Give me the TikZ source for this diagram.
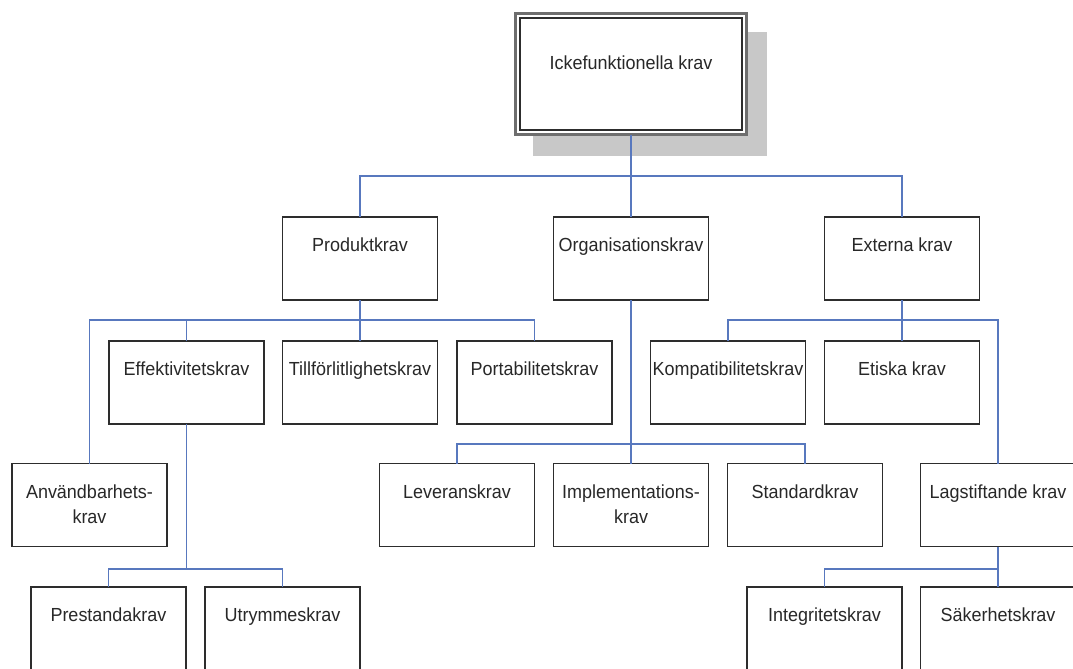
\documentclass[tikz,border=0pt]{standalone}
\usepackage{fontspec}
\setmainfont{Liberation Sans}[FakeStretch=0.95]
\definecolor{linkblue}{RGB}{88,120,190}
\definecolor{boxline}{RGB}{45,45,45}
\definecolor{shadowgray}{RGB}{200,200,200}
\definecolor{framegray}{RGB}{110,110,110}
\definecolor{txtcol}{RGB}{40,40,40}
\newcommand{\boxtext}[1]{\parbox[c][62.25pt][t]{116.25pt}{\centering\fontsize{14.2pt}{18.75pt}\selectfont\vspace*{13.1pt}\strut #1}}
\newcommand{\roottext}[1]{\parbox[c][90.75pt][t]{173.25pt}{\centering\fontsize{14.2pt}{18.75pt}\selectfont\vspace*{28.5pt}\strut #1}}
\begin{document}
\begin{tikzpicture}[x=0.75pt,y=-0.75pt,
  reqbox/.style={draw=boxline, line width=1.4pt, fill=white, inner sep=0pt, outer sep=0pt, text=txtcol},
  rootbox/.style={draw=framegray, line width=2.25pt, fill=white, inner sep=0pt, outer sep=0pt, text=txtcol},
  link/.style={draw=linkblue, line width=1.1pt}]
\fill[white] (0,0) rectangle (1073,668);
\useasboundingbox (0,0) rectangle (1073,668);

% root with shadow and double frame
\fill[shadowgray] (533,32) rectangle (767,156);
\node[rootbox] (root) at (631,74) {\roottext{Ickefunktionella krav}};
\draw[boxline, line width=1.1pt] ([shift={(4.5,4.5)}]root.north west) rectangle ([shift={(-4.5,-4.5)}]root.south east);

% level 1
\node[reqbox] (prod) at (360,258.5) {\boxtext{Produktkrav}};
\node[reqbox] (org)  at (631,258.5) {\boxtext{Organisationskrav}};
\node[reqbox] (ext)  at (902,258.5) {\boxtext{Externa krav}};

% level 2
\node[reqbox] (eff)  at (186.5,382.5) {\boxtext{Effektivitetskrav}};
\node[reqbox] (till) at (360,382.5)   {\boxtext{Tillförlitlighetskrav}};
\node[reqbox] (port) at (534.5,382.5) {\boxtext{Portabilitetskrav}};
\node[reqbox] (komp) at (728,382.5)   {\boxtext{Kompatibilitetskrav}};
\node[reqbox] (etik) at (902,382.5)   {\boxtext{Etiska krav}};

% level 3
\node[reqbox] (anv)  at (89.5,505)  {\boxtext{Användbarhets-\\krav}};
\node[reqbox] (lev)  at (457,505)   {\boxtext{Leveranskrav}};
\node[reqbox] (impl) at (631,505)   {\boxtext{Implementations-\\krav}};
\node[reqbox] (std)  at (805,505)   {\boxtext{Standardkrav}};
\node[reqbox] (lag)  at (998,505)   {\boxtext{Lagstiftande krav}};

% level 4
\node[reqbox] (prest) at (108.5,628.5) {\boxtext{Prestandakrav}};
\node[reqbox] (utr)   at (282.5,628.5) {\boxtext{Utrymmeskrav}};
\node[reqbox] (integ) at (824.5,628.5) {\boxtext{Integritetskrav}};
\node[reqbox] (saker) at (998,628.5)   {\boxtext{Säkerhetskrav}};

% junctions
\coordinate (j0) at (631,176);
\coordinate (j1) at (360,320);
\coordinate (j2) at (902,320);
\coordinate (j3) at (631,444);
\coordinate (j4) at (186.5,569);
\coordinate (j5) at (998,569);

% connectors
\draw[link] (root.south) -- (org.north);
\draw[link] (prod.north) |- (j0) -| (ext.north);

\draw[link] (prod.south) -- (till.north);
\draw[link] (anv.north) |- (j1) -| (port.north);
\draw[link] (eff.north) -- (eff.north |- j1);

\draw[link] (ext.south) -- (etik.north);
\draw[link] (komp.north) |- (j2) -| (lag.north);

\draw[link] (org.south) -- (impl.north);
\draw[link] (lev.north) |- (j3) -| (std.north);

\draw[link] (eff.south) -- (j4);
\draw[link] (prest.north) |- (j4) -| (utr.north);

\draw[link] (lag.south) -- (saker.north);
\draw[link] (integ.north) |- (j5);
\end{tikzpicture}
\end{document}
